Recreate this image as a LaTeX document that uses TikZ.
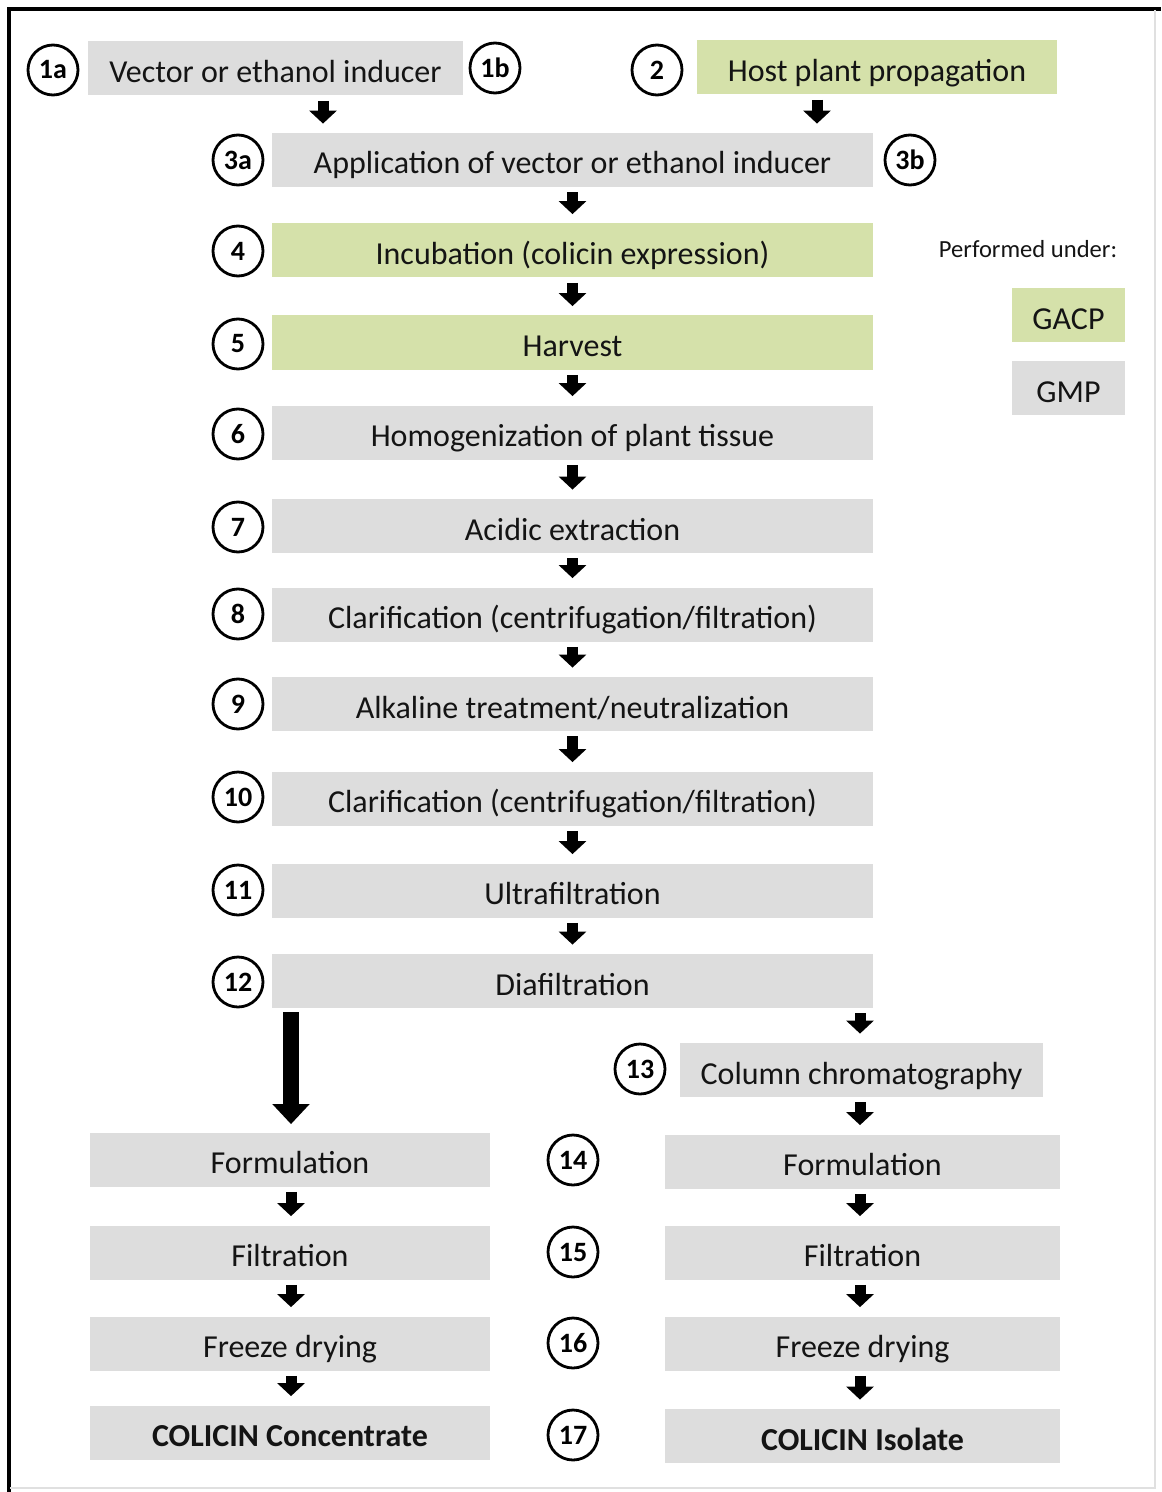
\documentclass[tikz,border=0pt]{standalone}
\usepackage{fontspec}
\setmainfont{Carlito}
\usetikzlibrary{arrows.meta}
\definecolor{gmpgray}{RGB}{221,221,221}
\definecolor{gacpgreen}{RGB}{213,225,170}
\definecolor{txt}{RGB}{20,20,20}
\begin{document}
\begin{tikzpicture}[x=0.5pt,y=-0.5pt,
  box/.style={minimum height=27pt, inner sep=0pt, text height=15pt, text depth=1pt, text=txt, font=\fontsize{16}{19}\selectfont},
  gmp/.style={box, fill=gmpgray},
  gacp/.style={box, fill=gacpgreen},
  num/.style={circle, draw, line width=1.4pt, minimum size=25pt, inner sep=0pt, font=\bfseries\fontsize{14}{16}\selectfont},
  blk/.style={line width=5.5pt, -{Triangle[width=13.5pt,length=6.5pt]}, shorten <=2.5pt, shorten >=4.5pt},
  bigblk/.style={line width=8pt, -{Triangle[width=18pt,length=10pt]}, shorten <=2pt, shorten >=4pt}]
\useasboundingbox (0,0) rectangle (1161,1492);
% frame
\draw[line width=2pt] (9,1492) -- (9,9) -- (1161,9);
\draw[black!12, line width=1pt] (1155,10) -- (1155,1488) -- (10,1488);
% top row
\node[gmp, minimum width=187.5pt] (b1) at (275.5,68.5) {Vector or ethanol inducer};
\node[num] (n1a) at (53,70) {1a};
\node[num] (n1b) at (495,68) {1b};
\node[gacp, minimum width=180pt] (b2) at (877,67.5) {Host plant propagation};
\node[num] (n2) at (657,70) {2};
% main column
\node[gmp, minimum width=300.5pt] (b3) at (572.5,160) {Application of vector or ethanol inducer};
\node[num] (n3a) at (238,160) {3a};
\node[num] (n3b) at (910,160) {3b};
\node[gacp, minimum width=300.5pt] (b4) at (572.5,250.5) {Incubation (colicin expression)};
\node[num] (n4) at (238,251) {4};
\node[gacp, minimum width=300.5pt] (b5) at (572.5,342.5) {Harvest};
\node[num] (n5) at (238,344) {5};
\node[gmp, minimum width=300.5pt] (b6) at (572.5,432.5) {Homogenization of plant tissue};
\node[num] (n6) at (238,434) {6};
\node[gmp, minimum width=300.5pt] (b7) at (572.5,526) {Acidic extraction};
\node[num] (n7) at (238,527) {7};
\node[gmp, minimum width=300.5pt] (b8) at (572.5,614.5) {Clarification (centrifugation/filtration)};
\node[num] (n8) at (238,614) {8};
\node[gmp, minimum width=300.5pt] (b9) at (572.5,704) {Alkaline treatment/neutralization};
\node[num] (n9) at (238,704) {9};
\node[gmp, minimum width=300.5pt] (b10) at (572.5,798.5) {Clarification (centrifugation/filtration)};
\node[num] (n10) at (238,797) {10};
\node[gmp, minimum width=300.5pt] (b11) at (572.5,890.5) {Ultrafiltration};
\node[num] (n11) at (238,890) {11};
\node[gmp, minimum width=300.5pt] (b12) at (572.5,981) {Diafiltration};
\node[num] (n12) at (238,982) {12};
\node[gmp, minimum width=181.5pt] (b13) at (861.5,1070) {Column chromatography};
\node[num] (n13) at (640,1069) {13};
% left branch
\node[gmp, minimum width=200pt] (l14) at (290,1159.5) {Formulation};
\node[gmp, minimum width=200pt] (l15) at (290,1252.5) {Filtration};
\node[gmp, minimum width=200pt] (l16) at (290,1343.5) {Freeze drying};
\node[gmp, minimum width=200pt, font=\bfseries\fontsize{16}{19}\selectfont] (l17) at (290,1432.5) {COLICIN Concentrate};
% right branch
\node[gmp, minimum width=197.5pt] (r14) at (862.5,1161.5) {Formulation};
\node[gmp, minimum width=197.5pt] (r15) at (862.5,1252.5) {Filtration};
\node[gmp, minimum width=197.5pt] (r16) at (862.5,1343.5) {Freeze drying};
\node[gmp, minimum width=197.5pt, font=\bfseries\fontsize{16}{19}\selectfont] (r17) at (862.5,1436) {COLICIN Isolate};
\node[num] (n14) at (573,1160) {14};
\node[num] (n15) at (573,1252) {15};
\node[num] (n16) at (573,1343) {16};
\node[num] (n17) at (573,1435) {17};
% legend
\node[text=txt, font=\fontsize{12.3}{14}\selectfont] (leg) at (1028,249) {Performed under:};
\node[gacp, minimum width=56.5pt] (lg1) at (1068.5,315) {GACP};
\node[gmp, minimum width=56.5pt] (lg2) at (1068.5,388) {GMP};
% arrow x positions
\coordinate (xa) at (323,0);
\coordinate (xb) at (817,0);
\coordinate (xc) at (860,0);
\coordinate (xd) at (291,0);
% arrows
\draw[blk] (b1.south -| xa) -- (b3.north -| xa);
\draw[blk] (b2.south -| xb) -- (b3.north -| xb);
\draw[blk] (b3) -- (b4);
\draw[blk] (b4) -- (b5);
\draw[blk] (b5) -- (b6);
\draw[blk] (b6) -- (b7);
\draw[blk] (b7) -- (b8);
\draw[blk] (b8) -- (b9);
\draw[blk] (b9) -- (b10);
\draw[blk] (b10) -- (b11);
\draw[blk] (b11) -- (b12);
\draw[blk] (b12.south -| xc) -- (b13.north -| xc);
\draw[bigblk] (b12.south -| xd) -- (l14.north -| xd);
\draw[blk] (b13.south -| xc) -- (r14.north -| xc);
\draw[blk] (l14.south -| xd) -- (l15.north -| xd);
\draw[blk] (l15.south -| xd) -- (l16.north -| xd);
\draw[blk] (l16.south -| xd) -- (l17.north -| xd);
\draw[blk] (r14.south -| xc) -- (r15.north -| xc);
\draw[blk] (r15.south -| xc) -- (r16.north -| xc);
\draw[blk] (r16.south -| xc) -- (r17.north -| xc);
\end{tikzpicture}
\end{document}
